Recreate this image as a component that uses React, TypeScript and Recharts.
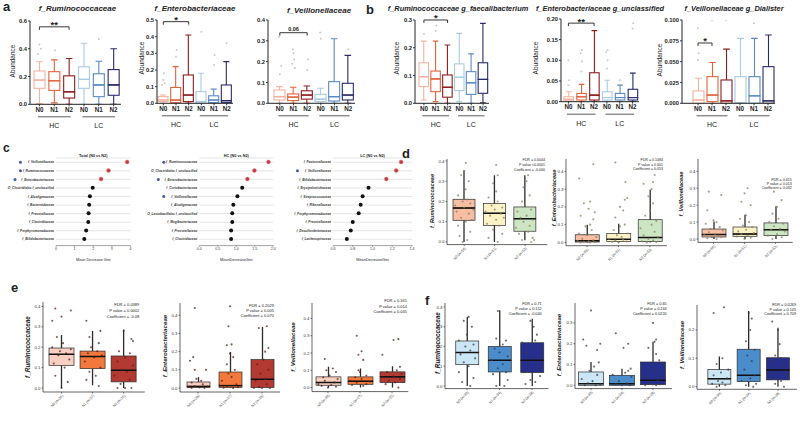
import React from 'react';
import { ComposedChart, Bar, Scatter, XAxis, YAxis, ReferenceLine, ReferenceDot, CartesianGrid } from 'recharts';

type Pt = [number, number, number];
const FONT = '"Liberation Sans", Arial, Helvetica, sans-serif';

// ---------------- panels a / b ----------------
const abKeys = ['HC-N0', 'HC-N1', 'HC-N2', 'LC-N0', 'LC-N1', 'LC-N2'];
const abLabels = ['N0', 'N1', 'N2', 'N0', 'N1', 'N2'];
const abStrokes = ['#f2b3a0', '#e1643f', '#8c1d1d', '#a7cbe6', '#5a8cc3', '#282b69'];
const abFills = ['#ffffff', '#ffffff', '#ffffff', '#ffffff', '#ffffff', '#ffffff'];

const a1Min = [0.005, 0.01, 0.0, 0.0, 0.0, 0.0];
const a1Q1 = [0.115, 0.10, 0.045, 0.115, 0.055, 0.065];
const a1Med = [0.175, 0.17, 0.09, 0.18, 0.14, 0.14];
const a1Q3 = [0.24, 0.235, 0.205, 0.27, 0.22, 0.25];
const a1Max = [0.307, 0.32, 0.33, 0.44, 0.31, 0.40];
const a1Out: Pt[] = [[0, 0.36, -0.1], [0, 0.40, 0.1], [0, 0.43, 0], [1, 0.39, 0.05], [4, 0.47, 0]];
const a1Ticks = [0, 0.2, 0.4, 0.6];

const a2Min = [0, 0, 0, 0, 0, 0];
const a2Q1 = [0.01, 0.004, 0.01, 0.0, 0.004, 0.004];
const a2Med = [0.02, 0.02, 0.05, 0.01, 0.02, 0.016];
const a2Q3 = [0.04, 0.095, 0.17, 0.07, 0.045, 0.11];
const a2Max = [0.05, 0.22, 0.41, 0.18, 0.085, 0.25];
const a2Out: Pt[] = [[0, 0.11, -0.1], [0, 0.12, 0.1], [0, 0.14, 0], [0, 0.18, 0.05], [1, 0.28, 0], [1, 0.32, 0.05], [2, 0.47, 0], [3, 0.43, 0], [4, 0.23, 0], [4, 0.29, 0.05], [5, 0.36, 0]];
const a2Ticks = [0, 0.1, 0.2, 0.3, 0.4, 0.5];

const a3Min = [0, 0, 0, 0, 0, 0];
const a3Q1 = [0.016, 0.013, 0.02, 0.008, 0.011, 0.016];
const a3Med = [0.032, 0.03, 0.04, 0.02, 0.032, 0.04];
const a3Q3 = [0.064, 0.045, 0.06, 0.043, 0.104, 0.096];
const a3Max = [0.08, 0.077, 0.083, 0.072, 0.31, 0.23];
const a3Out: Pt[] = [[0, 0.14, 0], [0, 0.18, 0.1], [0, 0.32, -0.05], [1, 0.17, 0.1], [1, 0.19, -0.1], [1, 0.21, 0.05], [1, 0.24, 0], [1, 0.26, -0.05], [2, 0.16, 0], [2, 0.21, 0.05], [3, 0.31, 0], [3, 0.34, -0.05], [5, 0.26, 0]];
const a3Ticks = [0, 0.1, 0.2, 0.3, 0.4];

const b1Min = [0.012, 0.006, 0.0, 0.006, 0.0, 0.002];
const b1Q1 = [0.06, 0.042, 0.022, 0.046, 0.032, 0.036];
const b1Med = [0.096, 0.088, 0.058, 0.094, 0.074, 0.086];
const b1Q3 = [0.146, 0.116, 0.102, 0.142, 0.114, 0.146];
const b1Max = [0.224, 0.224, 0.21, 0.252, 0.178, 0.288];
const b1Out: Pt[] = [[0, 0.25, 0], [1, 0.26, 0], [1, 0.28, 0.05]];
const b1Ticks = [0, 0.1, 0.2, 0.3];

const b2Min = [0, 0, 0, 0, 0, 0];
const b2Q1 = [0.002, 0.004, 0.004, 0.004, 0.004, 0.004];
const b2Med = [0.006, 0.012, 0.016, 0.01, 0.01, 0.01];
const b2Q3 = [0.012, 0.02, 0.07, 0.024, 0.02, 0.03];
const b2Max = [0.024, 0.042, 0.172, 0.052, 0.04, 0.069];
const b2Out: Pt[] = [[0, 0.04, 0], [0, 0.052, 0.05], [0, 0.10, 0], [1, 0.073, 0], [1, 0.097, 0.05], [1, 0.117, -0.05], [1, 0.125, 0.05], [3, 0.08, 0], [3, 0.10, 0.05], [3, 0.12, -0.05], [3, 0.125, 0.05], [4, 0.052, 0], [5, 0.177, 0], [5, 0.19, 0.05]];
const b2Ticks = [0, 0.05, 0.1, 0.15, 0.2];

const b3Min = [0, 0, 0, 0, 0, 0];
const b3Q1 = [0.0, 0.002, 0.0, 0.0, 0.0, 0.0];
const b3Med = [0.004, 0.01, 0.003, 0.0008, 0.009, 0.003];
const b3Q3 = [0.0148, 0.032, 0.028, 0.032, 0.032, 0.044];
const b3Max = [0.03, 0.049, 0.065, 0.078, 0.078, 0.082];
const b3Out: Pt[] = [[0, 0.052, 0], [0, 0.06, 0.05], [0, 0.09, 0], [1, 0.1, 0], [2, 0.1, 0], [4, 0.096, 0]];
const b3Ticks = [0, 0.025, 0.05, 0.075, 0.1];

// ---------------- panel c ----------------
const c1Names = ['f_Veillonellaceae', 'f_Ruminococcaceae', 'f_Enterobacteriaceae', 'O_Clostridiales f_unclassified', 'f_Alcaligenaceae', 'f_Bacteroidaceae', 'f_Prevotellaceae', 'f_Clostridiaceae', 'f_Porphyromonadaceae', 'f_Bifidobacteriaceae'];
const c1Vals = [3.82, 2.82, 2.42, 1.97, 1.82, 1.78, 1.75, 1.73, 1.62, 1.52];
const c1Blue = [1, 1, 1, 0, 0, 0, 0, 0, 0, 0];
const c1Ticks = [0, 1, 2, 3, 4];

const c2Names = ['f_Ruminococcaceae', 'O_Clostridiales f_unclassified', 'f_Enterobacteriaceae', 'f_Coriobacteriaceae', 'f_Veillonellaceae', 'f_Alcaligenaceae', 'O_Lactobacillales f_unclassified', 'f_Mogibacteriaceae', 'f_Prevotellaceae', 'f_Clostridiaceae'];
const c2Vals = [1.87, 1.49, 1.3, 1.16, 1.03, 0.92, 0.89, 0.89, 0.86, 0.86];
const c2Blue = [1, 0, 1, 0, 1, 0, 0, 0, 0, 0];
const c2Ticks = [0, 0.5, 1, 1.5, 2];

const c3Names = ['f_Pasteurellaceae', 'f_Veillonellaceae', 'f_Bifidobacteriaceae', 'f_Erysipelotrichaceae', 'f_Streptococcaceae', 'f_Rikenellaceae', 'f_Porphyromonadaceae', 'f_Prevotellaceae', 'f_Desulfovibrionaceae', 'f_Lachnospiraceae'];
const c3Vals = [1.29, 1.24, 1.14, 0.96, 0.90, 0.88, 0.86, 0.80, 0.78, 0.74];
const c3Blue = [0, 1, 0, 0, 0, 0, 0, 0, 0, 0];
const c3Ticks = [0.6, 0.8, 1.0, 1.2, 1.4];

// ---------------- panels d / e / f ----------------
const gKeys = ['N0', 'N1', 'N2'];
const dLabels = ['N0 (n=66)', 'N1 (n=61)', 'N2 (n=53)'];
const eLabels = ['N0 (n=36)', 'N1 (n=27)', 'N2 (n=25)'];
const fLabels = ['N0 (n=30)', 'N1 (n=34)', 'N2 (n=28)'];
const dFills = ['#f7bea3', '#fbf2c5', '#cce6c3'];
const eFills = ['#f8cfc1', '#f2793b', '#b33a32'];
const fFills = ['#cbe6f5', '#4b8ccb', '#262f8c'];
const dark3 = ['#2b2b2b', '#2b2b2b', '#2b2b2b'];

const d1Min = [0, 0, 0.008]; const d1Q1 = [0.107, 0.082, 0.053]; const d1Med = [0.168, 0.142, 0.115]; const d1Q3 = [0.211, 0.19, 0.173]; const d1Max = [0.354, 0.33, 0.33];
const d1Pts: Pt[] = [
  [0, 0.0, -0.05], [0, 0.01, 0.1], [0, 0.03, -0.15], [0, 0.05, 0.2], [0, 0.08, -0.2], [0, 0.10, 0.05], [0, 0.11, 0.25], [0, 0.12, -0.1], [0, 0.14, 0.15], [0, 0.15, -0.25], [0, 0.16, 0.3], [0, 0.17, 0.0], [0, 0.18, -0.3], [0, 0.19, 0.2], [0, 0.2, -0.05], [0, 0.21, 0.1], [0, 0.23, -0.2], [0, 0.26, 0.05], [0, 0.3, 0.15], [0, 0.33, -0.1], [0, 0.35, 0.0], [0, 0.39, 0.05],
  [1, 0.0, 0.1], [1, 0.02, -0.2], [1, 0.04, 0.25], [1, 0.06, -0.05], [1, 0.08, 0.15], [1, 0.09, -0.25], [1, 0.11, 0.05], [1, 0.12, 0.3], [1, 0.13, -0.15], [1, 0.14, 0.2], [1, 0.15, -0.3], [1, 0.16, 0.0], [1, 0.17, 0.25], [1, 0.18, -0.1], [1, 0.2, 0.1], [1, 0.22, -0.2], [1, 0.25, 0.05], [1, 0.29, -0.05], [1, 0.33, 0.1], [1, 0.38, 0.05],
  [2, 0.0, 0.2], [2, 0.01, 0.3], [2, 0.01, -0.1], [2, 0.02, 0.25], [2, 0.04, -0.2], [2, 0.05, 0.1], [2, 0.07, -0.3], [2, 0.08, 0.15], [2, 0.1, -0.05], [2, 0.11, 0.25], [2, 0.12, -0.15], [2, 0.13, 0.05], [2, 0.15, -0.25], [2, 0.16, 0.2], [2, 0.18, 0.0], [2, 0.2, -0.1], [2, 0.23, 0.15], [2, 0.27, -0.05], [2, 0.3, 0.05], [2, 0.33, 0.1],
];
const d2Min = [0, 0, 0]; const d2Q1 = [0.002, 0.005, 0.005]; const d2Med = [0.009, 0.017, 0.028]; const d2Q3 = [0.043, 0.05, 0.128]; const d2Max = [0.1, 0.105, 0.297];
const d2Pts: Pt[] = [
  [0, 0.0, -0.2], [0, 0.0, 0.1], [0, 0.002, 0.25], [0, 0.004, -0.1], [0, 0.006, 0.05], [0, 0.009, -0.3], [0, 0.012, 0.2], [0, 0.02, -0.15], [0, 0.03, 0.3], [0, 0.04, 0.0], [0, 0.05, -0.25], [0, 0.07, 0.15], [0, 0.09, -0.05], [0, 0.1, 0.1], [0, 0.13, 0.2], [0, 0.15, -0.2], [0, 0.17, 0.25], [0, 0.19, 0.05], [0, 0.22, -0.1], [0, 0.23, 0.1], [0, 0.36, -0.25], [0, 0.44, 0.2],
  [1, 0.0, 0.0], [1, 0.003, -0.2], [1, 0.005, 0.25], [1, 0.01, -0.1], [1, 0.015, 0.15], [1, 0.02, -0.3], [1, 0.03, 0.1], [1, 0.04, -0.05], [1, 0.05, 0.3], [1, 0.07, -0.15], [1, 0.09, 0.05], [1, 0.1, 0.2], [1, 0.14, -0.1], [1, 0.18, 0.15], [1, 0.2, 0.05], [1, 0.24, 0.2], [1, 0.25, 0.28], [1, 0.34, 0.22], [1, 0.45, -0.1],
  [2, 0.0, -0.1], [2, 0.002, 0.2], [2, 0.006, -0.25], [2, 0.01, 0.1], [2, 0.02, -0.05], [2, 0.03, 0.25], [2, 0.04, -0.2], [2, 0.06, 0.15], [2, 0.08, -0.3], [2, 0.1, 0.05], [2, 0.12, 0.2], [2, 0.15, -0.15], [2, 0.18, 0.0], [2, 0.22, 0.1], [2, 0.26, -0.05], [2, 0.3, 0.05], [2, 0.33, -0.2], [2, 0.34, 0.1], [2, 0.38, 0.15],
];
const d3Min = [0, 0, 0]; const d3Q1 = [0.012, 0.016, 0.02]; const d3Med = [0.026, 0.03, 0.055]; const d3Q3 = [0.059, 0.071, 0.095]; const d3Max = [0.104, 0.144, 0.193];
const d3Pts: Pt[] = [
  [0, 0.0, 0.1], [0, 0.005, -0.2], [0, 0.01, 0.25], [0, 0.012, -0.05], [0, 0.02, 0.15], [0, 0.025, -0.3], [0, 0.03, 0.05], [0, 0.04, -0.15], [0, 0.05, 0.3], [0, 0.06, -0.1], [0, 0.07, 0.2], [0, 0.09, -0.25], [0, 0.1, 0.1], [0, 0.11, 0.0], [0, 0.17, -0.2], [0, 0.26, 0.25], [0, 0.28, -0.15],
  [1, 0.0, 0.0], [1, 0.008, 0.2], [1, 0.015, -0.25], [1, 0.02, 0.1], [1, 0.03, -0.1], [1, 0.035, 0.3], [1, 0.045, -0.2], [1, 0.055, 0.05], [1, 0.07, 0.25], [1, 0.08, -0.05], [1, 0.1, 0.15], [1, 0.12, -0.15], [1, 0.14, 0.05], [1, 0.2, 0.2], [1, 0.22, -0.1], [1, 0.27, 0.0], [1, 0.3, 0.1],
  [2, 0.0, -0.1], [2, 0.01, 0.2], [2, 0.02, -0.25], [2, 0.03, 0.05], [2, 0.045, 0.3], [2, 0.055, -0.15], [2, 0.06, 0.15], [2, 0.075, -0.05], [2, 0.09, 0.25], [2, 0.1, -0.2], [2, 0.12, 0.1], [2, 0.15, -0.1], [2, 0.19, 0.05], [2, 0.23, 0.2], [2, 0.28, -0.05],
];

const e1Min = [0, 0.013, 0]; const e1Q1 = [0.111, 0.095, 0.03]; const e1Med = [0.165, 0.155, 0.087]; const e1Q3 = [0.196, 0.181, 0.157]; const e1Max = [0.26, 0.28, 0.287];
const e1Pts: Pt[] = [
  [0, 0.0, 0.0], [0, 0.03, 0.2], [0, 0.06, -0.2], [0, 0.1, 0.1], [0, 0.12, -0.25], [0, 0.14, 0.25], [0, 0.16, -0.1], [0, 0.17, 0.15], [0, 0.18, -0.05], [0, 0.19, 0.3], [0, 0.2, -0.3], [0, 0.22, 0.05], [0, 0.25, -0.15], [0, 0.33, -0.3], [0, 0.35, 0.0], [0, 0.38, 0.3], [0, 0.39, -0.2],
  [1, 0.01, 0.2], [1, 0.04, -0.2], [1, 0.06, 0.1], [1, 0.08, -0.1], [1, 0.1, 0.25], [1, 0.13, -0.25], [1, 0.15, 0.05], [1, 0.16, 0.3], [1, 0.17, -0.15], [1, 0.18, 0.15], [1, 0.2, -0.05], [1, 0.22, 0.2], [1, 0.25, -0.1], [1, 0.28, 0.25], [1, 0.33, -0.2],
  [2, 0.0, -0.2], [2, 0.0, 0.05], [2, 0.0, 0.25], [2, 0.02, -0.1], [2, 0.04, 0.2], [2, 0.06, -0.3], [2, 0.08, 0.1], [2, 0.09, -0.05], [2, 0.11, 0.3], [2, 0.13, -0.2], [2, 0.15, 0.05], [2, 0.17, 0.2], [2, 0.18, -0.15], [2, 0.23, 0.3], [2, 0.24, 0.25], [2, 0.28, 0.0],
];
const e2Min = [0, 0, 0]; const e2Q1 = [0.003, 0.003, 0.003]; const e2Med = [0.009, 0.013, 0.048]; const e2Q3 = [0.033, 0.088, 0.156]; const e2Max = [0.06, 0.198, 0.336];
const e2Pts: Pt[] = [
  [0, 0.0, -0.2], [0, 0.0, 0.2], [0, 0.003, 0.05], [0, 0.005, -0.3], [0, 0.008, 0.3], [0, 0.01, -0.1], [0, 0.02, 0.15], [0, 0.03, -0.2], [0, 0.04, 0.1], [0, 0.05, -0.05], [0, 0.1, -0.1], [0, 0.1, 0.25], [0, 0.15, -0.25], [0, 0.17, -0.15], [0, 0.44, -0.1],
  [1, 0.0, 0.1], [1, 0.002, -0.2], [1, 0.005, 0.25], [1, 0.01, -0.1], [1, 0.02, 0.2], [1, 0.04, -0.25], [1, 0.06, 0.05], [1, 0.08, -0.05], [1, 0.1, 0.15], [1, 0.13, -0.1], [1, 0.17, 0.1], [1, 0.19, 0.0], [1, 0.235, -0.1], [1, 0.24, 0.05], [1, 0.34, -0.05], [1, 0.45, 0.0],
  [2, 0.0, -0.25], [2, 0.0, 0.0], [2, 0.0, 0.25], [2, 0.005, -0.1], [2, 0.02, 0.15], [2, 0.04, -0.2], [2, 0.05, 0.1], [2, 0.08, -0.05], [2, 0.1, 0.2], [2, 0.13, -0.15], [2, 0.155, 0.05], [2, 0.2, 0.1], [2, 0.22, 0.2], [2, 0.33, -0.1], [2, 0.34, 0.15],
];
const e3Min = [0, 0, 0]; const e3Q1 = [0.0135, 0.019, 0.029]; const e3Med = [0.029, 0.037, 0.062]; const e3Q3 = [0.062, 0.062, 0.091]; const e3Max = [0.12, 0.11, 0.124];
const e3Pts: Pt[] = [
  [0, 0.0, 0.0], [0, 0.005, 0.25], [0, 0.01, -0.2], [0, 0.015, 0.1], [0, 0.02, -0.3], [0, 0.03, 0.2], [0, 0.04, -0.1], [0, 0.05, 0.3], [0, 0.06, -0.15], [0, 0.07, 0.05], [0, 0.09, 0.25], [0, 0.1, -0.05], [0, 0.11, 0.15], [0, 0.165, -0.1],
  [1, 0.01, 0.1], [1, 0.015, -0.25], [1, 0.02, 0.2], [1, 0.03, -0.1], [1, 0.035, 0.3], [1, 0.04, -0.3], [1, 0.05, 0.05], [1, 0.06, -0.15], [1, 0.07, 0.2], [1, 0.09, 0.0], [1, 0.1, -0.05], [1, 0.16, 0.1], [1, 0.19, -0.05], [1, 0.21, 0.05], [1, 0.3, -0.1],
  [2, 0.0, 0.2], [2, 0.02, -0.2], [2, 0.03, 0.1], [2, 0.04, -0.1], [2, 0.05, 0.25], [2, 0.06, -0.3], [2, 0.065, 0.05], [2, 0.08, 0.3], [2, 0.09, -0.15], [2, 0.1, 0.15], [2, 0.12, 0.25], [2, 0.19, -0.3], [2, 0.275, 0.05], [2, 0.28, 0.2],
];

const f1Min = [0, 0, 0]; const f1Q1 = [0.108, 0.071, 0.068]; const f1Med = [0.169, 0.13, 0.13]; const f1Q3 = [0.228, 0.2, 0.219]; const f1Max = [0.35, 0.383, 0.341];
const f1Pts: Pt[] = [
  [0, 0.0, 0.1], [0, 0.02, -0.15], [0, 0.04, 0.2], [0, 0.07, -0.25], [0, 0.1, 0.05], [0, 0.12, -0.1], [0, 0.14, 0.25], [0, 0.16, -0.2], [0, 0.18, 0.1], [0, 0.2, -0.05], [0, 0.21, 0.2], [0, 0.23, -0.25], [0, 0.26, 0.0], [0, 0.3, 0.15], [0, 0.33, -0.1], [0, 0.35, 0.05],
  [1, 0.0, -0.1], [1, 0.0, 0.15], [1, 0.03, 0.25], [1, 0.06, -0.2], [1, 0.07, 0.2], [1, 0.09, -0.05], [1, 0.11, 0.1], [1, 0.13, -0.25], [1, 0.15, 0.25], [1, 0.17, 0.0], [1, 0.19, -0.15], [1, 0.21, 0.1], [1, 0.23, 0.2], [1, 0.24, -0.1], [1, 0.38, -0.05],
  [2, 0.01, -0.2], [2, 0.02, 0.1], [2, 0.03, -0.05], [2, 0.05, 0.25], [2, 0.07, -0.25], [2, 0.09, 0.15], [2, 0.12, -0.1], [2, 0.14, 0.2], [2, 0.17, -0.15], [2, 0.19, 0.05], [2, 0.22, -0.3], [2, 0.23, 0.1], [2, 0.26, 0.15], [2, 0.3, 0.05], [2, 0.33, -0.05],
];
const f2Min = [0, 0, 0]; const f2Q1 = [0.0, 0.0, 0.003]; const f2Med = [0.008, 0.008, 0.024]; const f2Q3 = [0.064, 0.048, 0.112]; const f2Max = [0.112, 0.08, 0.21];
const f2Pts: Pt[] = [
  [0, 0.0, -0.2], [0, 0.0, 0.15], [0, 0.005, 0.3], [0, 0.01, -0.1], [0, 0.02, 0.05], [0, 0.03, -0.3], [0, 0.05, 0.2], [0, 0.07, -0.05], [0, 0.09, 0.1], [0, 0.11, 0.25], [0, 0.17, 0.2], [0, 0.19, -0.15], [0, 0.2, 0.3], [0, 0.22, -0.25], [0, 0.36, 0.0],
  [1, 0.0, 0.0], [1, 0.0, 0.25], [1, 0.005, -0.2], [1, 0.01, 0.15], [1, 0.02, -0.1], [1, 0.04, 0.3], [1, 0.05, -0.3], [1, 0.06, 0.1], [1, 0.07, 0.2], [1, 0.08, 0.28], [1, 0.18, 0.05], [1, 0.2, 0.2], [1, 0.25, -0.2],
  [2, 0.0, -0.25], [2, 0.0, 0.1], [2, 0.005, 0.25], [2, 0.01, -0.1], [2, 0.02, 0.15], [2, 0.04, -0.2], [2, 0.07, 0.05], [2, 0.1, -0.05], [2, 0.12, 0.2], [2, 0.15, 0.1], [2, 0.18, -0.15], [2, 0.21, 0.05], [2, 0.22, 0.1], [2, 0.3, 0.0],
];
const f3Min = [0, 0, 0]; const f3Q1 = [0.009, 0.018, 0.024]; const f3Med = [0.028, 0.04, 0.059]; const f3Q3 = [0.061, 0.132, 0.102]; const f3Max = [0.106, 0.267, 0.208];
const f3Pts: Pt[] = [
  [0, 0.0, -0.1], [0, 0.005, 0.2], [0, 0.01, -0.25], [0, 0.015, 0.1], [0, 0.02, -0.05], [0, 0.03, 0.25], [0, 0.04, -0.2], [0, 0.05, 0.05], [0, 0.06, 0.3], [0, 0.08, -0.1], [0, 0.1, 0.1], [0, 0.26, -0.2], [0, 0.28, 0.15],
  [1, 0.0, 0.15], [1, 0.005, -0.1], [1, 0.01, 0.25], [1, 0.02, -0.25], [1, 0.03, 0.05], [1, 0.04, 0.2], [1, 0.06, -0.15], [1, 0.09, 0.1], [1, 0.11, -0.05], [1, 0.13, 0.2], [1, 0.16, -0.1], [1, 0.2, 0.05], [1, 0.24, 0.1], [1, 0.26, 0.0],
  [2, 0.0, 0.2], [2, 0.01, -0.1], [2, 0.02, 0.1], [2, 0.03, -0.25], [2, 0.04, 0.25], [2, 0.05, -0.05], [2, 0.07, 0.15], [2, 0.09, -0.2], [2, 0.1, 0.1], [2, 0.11, -0.1], [2, 0.15, 0.05], [2, 0.2, 0.0], [2, 0.23, -0.2],
];
const tick01_4 = [0, 0.1, 0.2, 0.3, 0.4];

// ---------------- layout ----------------
const LAY = {
  a1: { L: 30, R: 121, T: 21, B: 104.3, padL: 2, padR: 0, barSize: 11 },
  a2: { L: 157, R: 233, T: 20, B: 103.3, padL: 0, padR: 0, barSize: 10 },
  a3: { L: 268, R: 355, T: 20, B: 103.3, padL: 5, padR: 0, barSize: 11 },
  b1: { L: 415, R: 489, T: 20, B: 103.3, padL: 3, padR: 0, barSize: 9.5 },
  b2: { L: 561, R: 639, T: 19, B: 101.7, padL: 1, padR: 0, barSize: 9.5 },
  b3: { L: 682, R: 775, T: 20, B: 103.3, padL: 9, padR: 0, barSize: 11 },
  d1: { L: 446.7, R: 547, T: 158.7, B: 244.3, padL: 2, padR: 7, barSize: 22 },
  d2: { L: 566, R: 667, T: 159.3, B: 246, padL: 5.25, padR: 1.3, barSize: 24 },
  d3: { L: 698.3, R: 793, T: 159.3, B: 242.7, padL: 0, padR: 1.7, barSize: 24 },
  e1: { L: 43.3, R: 145, T: 301.7, B: 391.7, padL: 3, padR: 5.5, barSize: 25 },
  e2: { L: 180, R: 280, T: 302.7, B: 391.7, padL: 2, padR: 2, barSize: 23 },
  e3: { L: 311.7, R: 408, T: 302.7, B: 391.3, padL: 0, padR: 0.3, barSize: 25 },
  f1: { L: 445, R: 548.5, T: 302.7, B: 388.3, padL: 5.75, padR: 0.25, barSize: 23 },
  f2: { L: 575, R: 672, T: 302.7, B: 388.3, padL: 0.5, padR: 3.5, barSize: 25 },
  f3: { L: 697, R: 797, T: 305, B: 389.3, padL: 7.85, padR: 4.25, barSize: 23 },
};

interface Bracket { a: number; b: number; y: number; text: string; dy: number; fs: number }

function BoxChart(p: any) {
  const gg = p.variant === 'gg';
  const YW = 30, XH = 30, MT = 16, MR = 2;
  const pw = p.R - p.L, ph = p.B - p.T;
  const W = YW + pw + MR, H = MT + ph + XH;
  const n = p.keys.length;
  const rows = p.keys.map((key: string, i: number) => ({
    key,
    base: p.mins[i],
    w1: p.q1s[i] - p.mins[i],
    b1: p.meds[i] - p.q1s[i],
    b2: p.q3s[i] - p.meds[i],
    w2: p.maxs[i] - p.q3s[i],
    stroke: p.strokes[i],
    fill: p.fills[i],
  }));
  const ptsRows = p.pts.map((t: Pt) => ({ x: t[0] + 0.5 + t[2], v: t[1] }));
  const lc = (pl: any) => (gg ? '#2b2b2b' : pl.stroke);
  const wW = gg ? 1.3 : 1.1;
  const boxW = gg ? 0.7 : 1.1;
  const perPx = (p.domain[1] - p.domain[0]) / ph;
  const axisCol = '#222';

  const Empty = () => <g />;
  const LowerWhisker = (s: any) => {
    const cx = s.x + s.width / 2;
    const c = lc(s.payload);
    return (
      <g>
        {s.height > 0 && <line x1={cx} x2={cx} y1={s.y} y2={s.y + s.height} stroke={c} strokeWidth={wW} />}
        {!gg && <line x1={cx - s.width * 0.3} x2={cx + s.width * 0.3} y1={s.y + s.height} y2={s.y + s.height} stroke={c} strokeWidth={wW} />}
      </g>
    );
  };
  const UpperWhisker = (s: any) => {
    const cx = s.x + s.width / 2;
    const c = lc(s.payload);
    return (
      <g>
        {s.height > 0 && <line x1={cx} x2={cx} y1={s.y} y2={s.y + s.height} stroke={c} strokeWidth={wW} />}
        {!gg && <line x1={cx - s.width * 0.3} x2={cx + s.width * 0.3} y1={s.y} y2={s.y} stroke={c} strokeWidth={wW} />}
      </g>
    );
  };
  const LowerBox = (s: any) => (
    <rect x={s.x} y={s.y} width={s.width} height={Math.max(s.height, 0)} fill={s.payload.fill} stroke={lc(s.payload)} strokeWidth={boxW} />
  );
  const UpperBox = (s: any) => (
    <g>
      <rect x={s.x} y={s.y} width={s.width} height={Math.max(s.height, 0)} fill={s.payload.fill} stroke={lc(s.payload)} strokeWidth={boxW} />
      <line x1={s.x} x2={s.x + s.width} y1={s.y + s.height} y2={s.y + s.height} stroke={gg ? '#111' : s.payload.stroke} strokeWidth={gg ? 1.5 : 1.1} />
    </g>
  );
  const RotTick = (t: any) => {
    const i = p.keys.indexOf(t.payload.value);
    const x = t.x + 2, y = t.y + 2;
    return (
      <text x={x} y={y} transform={`rotate(-45 ${x} ${y})`} textAnchor="end" fontSize={3.6} fill="#333">
        {p.labels[i]}
      </text>
    );
  };

  const brackets: Bracket[] = p.brackets || [];
  return (
    <div style={{ position: 'absolute', left: p.L - YW, top: p.T - MT }}>
      <ComposedChart width={W} height={H} data={rows} margin={{ top: MT, right: MR, left: 0, bottom: 0 }}>
        <XAxis
          xAxisId="c" dataKey="key" type="category" interval={0} height={XH}
          padding={{ left: p.padL, right: p.padR }}
          axisLine={{ stroke: axisCol, strokeWidth: gg ? 0.7 : 1 }}
          tickLine={{ stroke: axisCol, strokeWidth: gg ? 0.6 : 0.9 }}
          tickSize={gg ? 1.5 : 2}
          tickMargin={gg ? 0.5 : 1}
          tick={gg ? RotTick : { fontSize: 6.3, fontWeight: 700, fill: '#222' }}
          tickFormatter={gg ? undefined : (k: string) => p.labels[p.keys.indexOf(k)]}
        />
        <XAxis xAxisId="n" dataKey="x" type="number" domain={[0, n]} allowDataOverflow hide padding={{ left: p.padL, right: p.padR }} />
        <YAxis
          type="number" domain={p.domain} ticks={p.ticks} allowDataOverflow width={YW} interval={0}
          axisLine={{ stroke: axisCol, strokeWidth: gg ? 0.7 : 1 }}
          tickLine={{ stroke: axisCol, strokeWidth: gg ? 0.6 : 0.9 }}
          tickSize={gg ? 1.5 : 2}
          tickMargin={1}
          tick={gg ? { fontSize: 4.3, fill: '#333' } : { fontSize: 5.8, fontWeight: 700, fill: '#222' }}
          tickFormatter={(v: number) => v.toFixed(p.digits)}
        />
        <Bar xAxisId="c" dataKey="base" stackId="s" barSize={p.barSize} shape={Empty} isAnimationActive={false} />
        <Bar xAxisId="c" dataKey="w1" stackId="s" barSize={p.barSize} shape={LowerWhisker} isAnimationActive={false} />
        <Bar xAxisId="c" dataKey="b1" stackId="s" barSize={p.barSize} shape={LowerBox} isAnimationActive={false} />
        <Bar xAxisId="c" dataKey="b2" stackId="s" barSize={p.barSize} shape={UpperBox} isAnimationActive={false} />
        <Bar xAxisId="c" dataKey="w2" stackId="s" barSize={p.barSize} shape={UpperWhisker} isAnimationActive={false} />
        <Scatter
          xAxisId="n" data={ptsRows} dataKey="v" isAnimationActive={false}
          shape={(s: any) => <circle cx={s.cx} cy={s.cy} r={p.ptR} fill={p.ptFill} fillOpacity={p.ptOpacity} />}
        />
        {brackets.map((bk, i) => (
          <ReferenceLine key={'h' + i} xAxisId="n" ifOverflow="visible" stroke="#222" strokeWidth={0.9}
            segment={[{ x: bk.a + 0.5, y: bk.y }, { x: bk.b + 0.5, y: bk.y }]} />
        ))}
        {brackets.map((bk, i) => (
          <ReferenceLine key={'l' + i} xAxisId="n" ifOverflow="visible" stroke="#222" strokeWidth={0.9}
            segment={[{ x: bk.a + 0.5, y: bk.y }, { x: bk.a + 0.5, y: bk.y - 3 * perPx }]} />
        ))}
        {brackets.map((bk, i) => (
          <ReferenceLine key={'r' + i} xAxisId="n" ifOverflow="visible" stroke="#222" strokeWidth={0.9}
            segment={[{ x: bk.b + 0.5, y: bk.y }, { x: bk.b + 0.5, y: bk.y - 3 * perPx }]} />
        ))}
        {brackets.map((bk, i) => (
          <ReferenceDot key={'t' + i} xAxisId="n" ifOverflow="visible" x={(bk.a + bk.b) / 2 + 0.5} y={bk.y} r={0}
            shape={(s: any) => (
              <text x={s.cx} y={s.cy + bk.dy} textAnchor="middle" fontSize={bk.fs} fontWeight={700} fill="#222">{bk.text}</text>
            )} />
        ))}
      </ComposedChart>
    </div>
  );
}

function DotPlot(p: any) {
  const YW = p.L - p.left;
  const MT = 2, XH = 14, MR = 4;
  const W = YW + (p.R - p.L) + MR;
  const H = MT + (p.B - p.T) + XH;
  const rows = p.names.map((name: string, i: number) => ({ name, v: p.vals[i], blue: p.blue[i], red: i < 3 }));
  const CatTick = (t: any) => {
    const i = p.names.indexOf(t.payload.value);
    const label = p.names[i];
    const est = label.length * 3.25 * 0.56;
    return (
      <g>
        {rows[i].blue ? <circle cx={t.x - est - 2.6} cy={t.y} r={1.5} fill="#3e5ead" /> : null}
        <text x={t.x} y={t.y} dy="0.35em" textAnchor="end" fontSize={3.25} fontWeight={700} fontStyle="italic" fill="#333">{label}</text>
      </g>
    );
  };
  const DotShape = (s: any) => (
    <circle cx={s.x + s.width} cy={s.y + s.height / 2} r={2} fill={s.payload.red ? '#c23a3d' : '#111'} stroke={s.payload.red ? '#e48a8a' : 'none'} strokeWidth={0.5} />
  );
  return (
    <div style={{ position: 'absolute', left: p.left, top: p.T - MT }}>
      <ComposedChart layout="vertical" width={W} height={H} data={rows} margin={{ top: MT, right: MR, left: 0, bottom: 0 }}>
        <CartesianGrid horizontal vertical={false} stroke="#d2d2d2" strokeWidth={0.6} />
        <XAxis type="number" domain={p.domain} ticks={p.ticks} allowDataOverflow height={XH} interval={0}
          tick={{ fontSize: 3.6, fill: '#333' }} tickSize={1.5} tickMargin={0.5}
          axisLine={{ stroke: '#666', strokeWidth: 0.5 }} tickLine={{ stroke: '#666', strokeWidth: 0.5 }}
          tickFormatter={(v: number) => v.toFixed(p.digits)} />
        <YAxis type="category" dataKey="name" width={YW} axisLine={false} tickLine={false} tickSize={0} tickMargin={2}
          padding={{ top: 0, bottom: 2 }} interval={0} tick={CatTick} />
        <Bar dataKey="v" barSize={2} shape={DotShape} isAnimationActive={false} />
      </ComposedChart>
    </div>
  );
}

const txt = (x: number, y: number, s: string, o: any = {}) => (
  <text x={x} y={y} fontSize={o.fs || 6} fontWeight={o.fw || 400} fontStyle={o.it ? 'italic' : 'normal'} textAnchor={o.anchor || 'start'} fill={o.fill || '#222'}>{s}</text>
);
const vtxt = (x: number, y: number, s: string, o: any = {}) => (
  <text transform={`translate(${x} ${y}) rotate(-90)`} dy="0.35em" fontSize={o.fs || 6} fontWeight={o.fw || 400} fontStyle={o.it ? 'italic' : 'normal'} textAnchor="middle" fill="#222">{s}</text>
);
const groups = (l: any) => {
  const band = (l.R - l.L - l.padL - l.padR) / 6;
  const c = (i: number) => l.L + l.padL + (i + 0.5) * band;
  const y = l.B + 12.5;
  return (
    <g>
      <line x1={c(0) - 1.5} x2={c(2) + 1.5} y1={y} y2={y} stroke="#333" strokeWidth={0.8} />
      <line x1={c(3) - 1.5} x2={c(5) + 1.5} y1={y} y2={y} stroke="#333" strokeWidth={0.8} />
      {txt(c(1), l.B + 24, 'HC', { fs: 7, anchor: 'middle' })}
      {txt(c(4), l.B + 24, 'LC', { fs: 7, anchor: 'middle' })}
    </g>
  );
};
const stats = (x: number, y: number, lines: string[], fs: number, gap: number) => (
  <g>{lines.map((s, i) => <text key={i} x={x} y={y + i * gap} fontSize={fs} textAnchor="end" fill="#222">{s}</text>)}</g>
);

export default function App() {
  const ab = (lay: any, mins: number[], q1s: number[], meds: number[], q3s: number[], maxs: number[], out: Pt[], domain: number[], ticks: number[], digits: number, brackets: Bracket[]) => (
    <BoxChart {...lay} variant="prism" keys={abKeys} labels={abLabels} strokes={abStrokes} fills={abFills}
      mins={mins} q1s={q1s} meds={meds} q3s={q3s} maxs={maxs} pts={out} domain={domain} ticks={ticks} digits={digits}
      ptR={1} ptFill="#c4c4c4" ptOpacity={0.9} brackets={brackets} />
  );
  const gg = (lay: any, labels: string[], fills: string[], mins: number[], q1s: number[], meds: number[], q3s: number[], maxs: number[], pts: Pt[], domain: number[], ticks: number[], ptFill: string) => (
    <BoxChart {...lay} variant="gg" keys={gKeys} labels={labels} strokes={dark3} fills={fills}
      mins={mins} q1s={q1s} meds={meds} q3s={q3s} maxs={maxs} pts={pts} domain={domain} ticks={ticks} digits={1}
      ptR={1.05} ptFill={ptFill} ptOpacity={0.75} />
  );
  return (
    <div style={{ position: 'absolute', left: 0, top: 0, width: 800, height: 423, background: '#fff', overflow: 'hidden', fontFamily: FONT }}>
      {ab(LAY.a1, a1Min, a1Q1, a1Med, a1Q3, a1Max, a1Out, [0, 0.6], a1Ticks, 1, [{ a: 0, b: 2, y: 0.558, text: '**', dy: 1.5, fs: 9.5 }])}
      {ab(LAY.a2, a2Min, a2Q1, a2Med, a2Q3, a2Max, a2Out, [0, 0.5], a2Ticks, 1, [{ a: 0, b: 2, y: 0.49, text: '*', dy: 1.5, fs: 9.5 }])}
      {ab(LAY.a3, a3Min, a3Q1, a3Med, a3Q3, a3Max, a3Out, [0, 0.4], a3Ticks, 1, [{ a: 0, b: 2, y: 0.339, text: '0.06', dy: -2.2, fs: 5.5 }])}
      {ab(LAY.b1, b1Min, b1Q1, b1Med, b1Q3, b1Max, b1Out, [0, 0.3], b1Ticks, 1, [{ a: 0, b: 2, y: 0.3, text: '*', dy: 1.5, fs: 9.5 }])}
      {ab(LAY.b2, b2Min, b2Q1, b2Med, b2Q3, b2Max, b2Out, [0, 0.2], b2Ticks, 2, [{ a: 0, b: 2, y: 0.19, text: '**', dy: 1.5, fs: 9.5 }])}
      {ab(LAY.b3, b3Min, b3Q1, b3Med, b3Q3, b3Max, b3Out, [0, 0.1], b3Ticks, 3, [{ a: 0, b: 1, y: 0.0724, text: '*', dy: 1.5, fs: 9.5 }])}

      <DotPlot left={0} L={56} R={130.5} T={158} B={245.6} names={c1Names} vals={c1Vals} blue={c1Blue} domain={[0, 4]} ticks={c1Ticks} digits={0} />
      <DotPlot left={139} L={199.3} R={273.3} T={158} B={245.6} names={c2Names} vals={c2Vals} blue={c2Blue} domain={[0, 2]} ticks={c2Ticks} digits={1} />
      <DotPlot left={273} L={333} R={412} T={158} B={245.6} names={c3Names} vals={c3Vals} blue={c3Blue} domain={[0.6, 1.4]} ticks={c3Ticks} digits={1} />

      {gg(LAY.d1, dLabels, dFills, d1Min, d1Q1, d1Med, d1Q3, d1Max, d1Pts, [-0.013, 0.41], tick01_4, '#8e7d5e')}
      {gg(LAY.d2, dLabels, dFills, d2Min, d2Q1, d2Med, d2Q3, d2Max, d2Pts, [-0.0186, 0.47], tick01_4, '#8e7d5e')}
      {gg(LAY.d3, dLabels, dFills, d3Min, d3Q1, d3Med, d3Q3, d3Max, d3Pts, [-0.02, 0.473], tick01_4, '#8e7d5e')}
      {gg(LAY.e1, eLabels, eFills, e1Min, e1Q1, e1Med, e1Q3, e1Max, e1Pts, [-0.0196, 0.4216], tick01_4, '#5a2018')}
      {gg(LAY.e2, eLabels, eFills, e2Min, e2Q1, e2Med, e2Q3, e2Max, e2Pts, [-0.022, 0.4677], tick01_4, '#5a2018')}
      {gg(LAY.e3, eLabels, eFills, e3Min, e3Q1, e3Med, e3Q3, e3Max, e3Pts, [-0.0231, 0.489], tick01_4, '#5a2018')}
      {gg(LAY.f1, fLabels, fFills, f1Min, f1Q1, f1Med, f1Q3, f1Max, f1Pts, [-0.0132, 0.4203], tick01_4, '#3a3a4a')}
      {gg(LAY.f2, fLabels, fFills, f2Min, f2Q1, f2Med, f2Q3, f2Max, f2Pts, [-0.0159, 0.3958], [0, 0.1, 0.2, 0.3], '#3a3a4a')}
      {gg(LAY.f3, fLabels, fFills, f3Min, f3Q1, f3Med, f3Q3, f3Max, f3Pts, [-0.0092, 0.288], [0, 0.1, 0.2], '#3a3a4a')}

      <svg width={800} height={423} style={{ position: 'absolute', left: 0, top: 0, pointerEvents: 'none' }}>
        {txt(3, 11, 'a', { fs: 13, fw: 700 })}
        {txt(366, 13.5, 'b', { fs: 13, fw: 700 })}
        {txt(3, 152, 'c', { fs: 12, fw: 700 })}
        {txt(402, 158, 'd', { fs: 13, fw: 700 })}
        {txt(11, 292, 'e', { fs: 13, fw: 700 })}
        {txt(425, 305, 'f', { fs: 13, fw: 700 })}

        {txt(77.5, 11, 'f_Ruminococcaceae', { fs: 8, fw: 700, it: true, anchor: 'middle' })}
        {txt(195, 11, 'f_Enterobacteriaceae', { fs: 8, fw: 700, it: true, anchor: 'middle' })}
        {txt(319, 13, 'f_Veillonellaceae', { fs: 8, fw: 700, it: true, anchor: 'middle' })}
        {txt(458, 11, 'f_Ruminococcaceae g_faecalibacterium', { fs: 7.4, fw: 700, it: true, anchor: 'middle' })}
        {txt(600, 11, 'f_Enterobacteriaceae g_unclassified', { fs: 7.4, fw: 700, it: true, anchor: 'middle' })}
        {txt(734, 11, 'f_Veillonellaceae g_Dialister', { fs: 7.4, fw: 700, it: true, anchor: 'middle' })}

        {vtxt(13, 61, 'Abundance', { fs: 6.5 })}
        {vtxt(142, 58, 'Abundance', { fs: 6.5 })}
        {vtxt(397, 58, 'Abundance', { fs: 6.5 })}
        {vtxt(536, 58, 'Abundance', { fs: 6.5 })}
        {vtxt(660, 60, 'Abundance', { fs: 6.5 })}

        {groups(LAY.a1)}{groups(LAY.a2)}{groups(LAY.a3)}
        {groups(LAY.b1)}{groups(LAY.b2)}{groups(LAY.b3)}

        {txt(93.3, 157.3, 'Total (N0 vs N2)', { fs: 3.8, fw: 700, anchor: 'middle' })}
        {txt(236.3, 157.3, 'HC (N0 vs N2)', { fs: 3.8, fw: 700, anchor: 'middle' })}
        {txt(372.5, 157.3, 'LC (N0 vs N2)', { fs: 3.8, fw: 700, anchor: 'middle' })}
        {txt(93.3, 260.5, 'Mean Decrease Gini', { fs: 3.8, anchor: 'middle' })}
        {txt(236.3, 261, 'MeanDecreaseGini', { fs: 3.8, anchor: 'middle' })}
        {txt(372.5, 261, 'MeanDecreaseGini', { fs: 3.8, anchor: 'middle' })}

        {vtxt(432, 201, 'f_Ruminococcaceae', { fs: 5.6, fw: 700, it: true })}
        {vtxt(554, 198, 'f_Enterobacteriaceae', { fs: 5.6, fw: 700, it: true })}
        {vtxt(681, 194, 'f_Veillonellaceae', { fs: 5.6, fw: 700, it: true })}
        {vtxt(28, 347, 'f_Ruminococcaceae', { fs: 6.4, fw: 700, it: true })}
        {vtxt(165, 346, 'f_Enterobacteriaceae', { fs: 6.2, fw: 700, it: true })}
        {vtxt(293, 347, 'f_Veillonellaceae', { fs: 6.2, fw: 700, it: true })}
        {vtxt(438, 343, 'f_Ruminococcaceae', { fs: 6.4, fw: 700, it: true })}
        {vtxt(559, 345, 'f_Enterobacteriaceae', { fs: 6.2, fw: 700, it: true })}
        {vtxt(682, 345, 'f_Veillonellaceae', { fs: 6.0, fw: 700, it: true })}

        {stats(545, 161.3, ['FDR = 0.0044', 'P value <0.0001', 'Coefficient = -0.000'], 3.6, 4.6)}
        {stats(663, 161.3, ['FDR = 0.1484', 'P value = 0.001', 'Coefficient = 0.053'], 3.6, 4.5)}
        {stats(791.7, 180.6, ['FDR = 0.415', 'P value = 0.013', 'Coefficient = 0.032'], 3.6, 4)}
        {stats(139.3, 305.5, ['FDR = 0.0389', 'P value = 0.0002', 'Coefficient = -0.08'], 4, 6)}
        {stats(274, 306.5, ['FDR = 0.2029', 'P value = 0.005', 'Coefficient = 0.070'], 4, 5.2)}
        {stats(407, 302, ['FDR = 0.341', 'P value = 0.014', 'Coefficient = 0.045'], 4, 5.7)}
        {stats(541.7, 305.3, ['FDR = 0.71', 'P value = 0.152', 'Coefficient = -0.040'], 3.8, 4.7)}
        {stats(666.7, 305, ['FDR = 0.65', 'P value = 0.244', 'Coefficient = 0.0220'], 3.8, 5)}
        {stats(796, 306.3, ['FDR = 0.0269', 'P value = 0.145', 'Coefficient = 0.709'], 3.8, 4.2)}
      </svg>
    </div>
  );
}
